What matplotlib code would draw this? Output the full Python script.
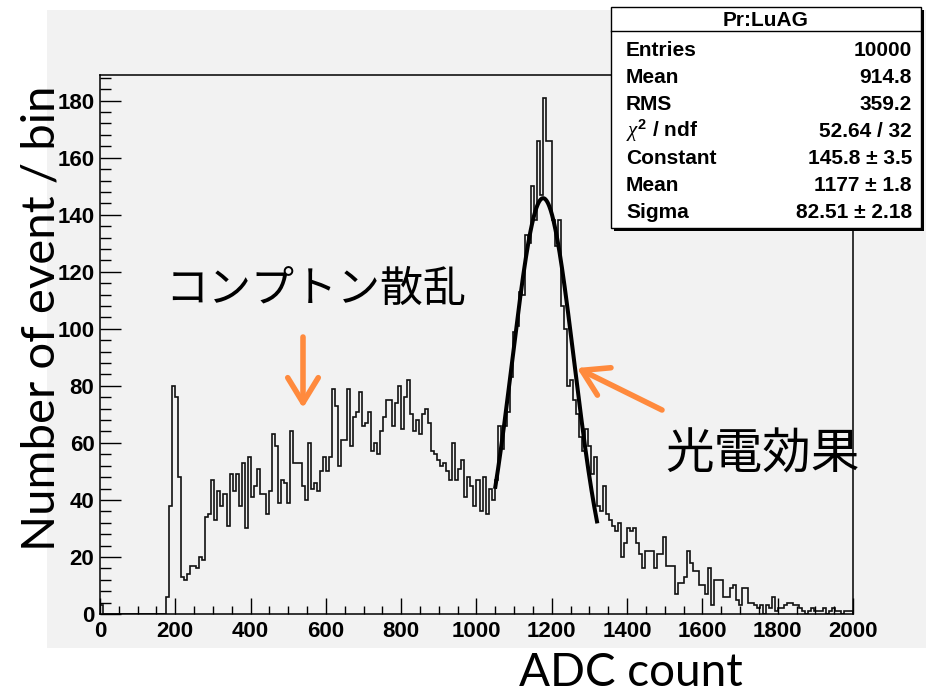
import matplotlib
matplotlib.use("Agg")
import matplotlib.pyplot as plt
import numpy as np
from matplotlib.patches import Rectangle
from matplotlib.lines import Line2D

# ADC histogram, 250 bins of 8 counts between 0 and 2000
x_min = 0
x_max = 2000
counts = [
    3, 0, 0, 0, 0, 0, 0, 0, 0, 0,
    0, 0, 0, 0, 0, 0, 0, 0, 0, 0,
    0, 0, 6, 38, 80, 76, 48, 13, 12, 14,
    17, 17, 16, 20, 19, 34, 35, 47, 33, 43,
    38, 42, 31, 49, 43, 49, 38, 53, 30, 55,
    41, 45, 51, 42, 42, 35, 43, 63, 59, 39,
    47, 46, 39, 64, 53, 53, 53, 45, 40, 60,
    44, 46, 43, 50, 55, 50, 55, 79, 73, 52,
    61, 61, 79, 59, 69, 71, 78, 66, 67, 71,
    57, 60, 56, 64, 69, 75, 75, 66, 74, 80,
    65, 76, 82, 70, 64, 68, 63, 70, 72, 67,
    57, 56, 54, 52, 53, 50, 47, 60, 47, 51,
    54, 41, 48, 45, 38, 47, 36, 48, 35, 44,
    40, 47, 66, 58, 66, 71, 83, 99, 101, 113,
    112, 133, 130, 150, 138, 166, 147, 181, 166, 166,
    138, 129, 138, 108, 100, 80, 82, 75, 70, 62,
    57, 65, 59, 49, 55, 38, 36, 45, 35, 33,
    31, 29, 32, 20, 25, 30, 29, 30, 25, 21,
    16, 22, 22, 22, 16, 21, 21, 27, 17, 17,
    17, 7, 11, 11, 13, 22, 18, 15, 15, 10,
    10, 7, 16, 3, 12, 12, 12, 6, 6, 9,
    10, 5, 3, 9, 9, 4, 4, 3, 2, 3,
    0, 3, 2, 6, 1, 2, 2, 3, 4, 4,
    3, 3, 2, 1, 0, 1, 2, 1, 1, 1,
    2, 0, 1, 2, 1, 1, 0, 1, 1, 1,
]

# gaussian fit of the photopeak
fit_constant = 145.8
fit_mean = 1177.0
fit_sigma = 82.51
fit_lo = 1050
fit_hi = 1320

stats_title = "Pr:LuAG"
stats_names = ["Entries", "Mean", "RMS", r"$\chi^{2}$ / ndf", "Constant", "Mean", "Sigma"]
stats_values = ["10000", "914.8", "359.2", "52.64 / 32", "145.8 ± 3.5", "1177 ± 1.8", "82.51 ± 2.18"]

W, H = 926, 696
bg = "#f2f2f2"
orange = "#ff8a3d"


# pixel (from top left) -> figure fraction
def fx(px):
    return px / W


def fy(py):
    return 1 - py / H


fig = plt.figure(figsize=(W / 100, H / 100), dpi=100)
fig.add_artist(Rectangle((fx(47), fy(648)), (W - 47) / W, (648 - 10) / H,
                         transform=fig.transFigure, facecolor=bg, edgecolor="none", zorder=-5))

ax = fig.add_axes([fx(100), fy(614), (853 - 100) / W, (614 - 75) / H])
ax.set_facecolor(bg)

edges = np.linspace(x_min, x_max, len(counts) + 1)
ax.stairs(counts, edges, color="#111111", lw=1.2)

xf = np.linspace(fit_lo, fit_hi, 300)
ax.plot(xf, fit_constant * np.exp(-0.5 * ((xf - fit_mean) / fit_sigma) ** 2), color="black", lw=2.9)

ax.set_xlim(x_min, x_max)
ax.set_ylim(0, 189)
ax.set_xticks(np.arange(0, 2001, 200))
ax.set_xticks(np.arange(0, 2001, 50), minor=True)
ax.set_yticks(np.arange(0, 181, 20))
ax.set_yticks(np.arange(0, 189, 4), minor=True)
ax.tick_params(axis="x", which="major", direction="in", length=11.5, width=1.0, pad=5)
ax.tick_params(axis="x", which="minor", direction="in", length=5.8, width=1.0)
ax.tick_params(axis="y", which="major", direction="in", length=15, width=1.0, pad=4)
ax.tick_params(axis="y", which="minor", direction="in", length=7.7, width=1.0)
for lab in ax.get_xticklabels() + ax.get_yticklabels():
    lab.set_fontfamily("Liberation Sans")
    lab.set_fontweight("bold")
    lab.set_fontsize(16)
for sp in ax.spines.values():
    sp.set_linewidth(1.1)

# axis titles (added on the slide)
fig.text(fx(42), fy(318), "Number of event / bin", rotation=90, ha="center", va="center",
         fontsize=34, family="Lato")
fig.text(fx(631), fy(686), "ADC count", ha="center", va="baseline", fontsize=33, family="Lato")

# annotations
fig.text(fx(316), fy(290), "コンプトン散乱", ha="center", va="center", fontsize=31,
         family=["Noto Sans CJK JP", "DejaVu Sans"])
fig.text(fx(763), fy(455), "光電効果", ha="center", va="center", fontsize=35,
         family=["Noto Sans CJK JP", "DejaVu Sans"])
arrow = dict(arrowstyle="->,head_length=0.9,head_width=0.55", color=orange, lw=4,
             mutation_scale=20, shrinkA=0, shrinkB=0, capstyle="round", joinstyle="round")
ax.annotate("", xy=(fx(303), fy(408)), xytext=(fx(303), fy(337)), xycoords="figure fraction",
            textcoords="figure fraction", arrowprops=arrow, annotation_clip=False)
ax.annotate("", xy=(fx(577), fy(368)), xytext=(fx(662), fy(410)), xycoords="figure fraction",
            textcoords="figure fraction", arrowprops=arrow, annotation_clip=False)

# stats box
plt.rcParams["mathtext.fontset"] = "custom"
plt.rcParams["mathtext.it"] = "Liberation Serif:italic"
plt.rcParams["mathtext.rm"] = "Liberation Sans:bold"
fig.add_artist(Rectangle((fx(614), fy(231)), (921 - 611) / W, (228 - 7) / H,
                         transform=fig.transFigure, facecolor="black", edgecolor="none", zorder=5))
fig.add_artist(Rectangle((fx(611), fy(228)), (921 - 611) / W, (228 - 7) / H,
                         transform=fig.transFigure, facecolor="white", edgecolor="black", lw=1, zorder=6))
fig.add_artist(Line2D([fx(611), fx(921)], [fy(31), fy(31)], transform=fig.transFigure,
                      color="black", lw=1, zorder=7))
fig.text(fx(766), fy(26), stats_title, ha="center", va="baseline", fontsize=15,
         fontweight="bold", family="Liberation Sans", zorder=8)
for i, (name, val) in enumerate(zip(stats_names, stats_values)):
    yb = 49 + 27 * i + 7
    fig.text(fx(626), fy(yb), name, ha="left", va="baseline", fontsize=15,
             fontweight="bold", family="Liberation Sans", zorder=8)
    fig.text(fx(912), fy(yb), val, ha="right", va="baseline", fontsize=15,
             fontweight="bold", family="Liberation Sans", zorder=8)

fig.savefig("out.png", dpi=100)
